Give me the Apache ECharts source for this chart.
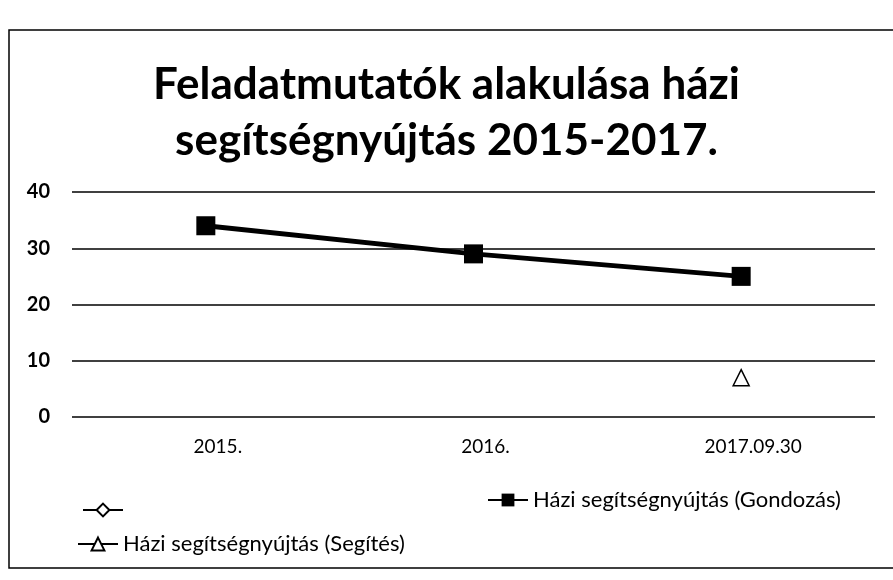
<!DOCTYPE html>
<html>
<head>
<meta charset="utf-8">
<script src="https://cdn.jsdelivr.net/npm/echarts@6/dist/echarts.min.js"></script>
<style>
  html, body { margin: 0; padding: 0; background: #fff; }
  #chart { width: 893px; height: 580px; }
</style>
</head>
<body>
<div id="chart"></div>
<script>
// adatok
const categories = ['2015.', '2016.', '2017.09.30']
const emptySeries = [null, null, null]
const gondozas = [34, 29, 25]
const segites = [null, null, 7]
const yTicks = [0, 10, 20, 30, 40]

const names = [' ', 'Házi segítségnyújtás (Gondozás)', 'Házi segítségnyújtás (Segítés)']
const font = 'Lato, "Open Sans", sans-serif'

const myChart = echarts.init(document.getElementById('chart'), null, { renderer: 'canvas' })

const legendBase = {
  itemWidth: 40,
  itemHeight: 16,
  itemGap: 6,
  textStyle: { fontFamily: font, fontSize: 22, color: '#000' }
}

myChart.setOption({
  animation: false,
  backgroundColor: '#fff',
  title: {
    text: 'Feladatmutatók alakulása házi\nsegítségnyújtás 2015-2017.',
    left: 'center',
    top: 52,
    textStyle: { fontFamily: font, fontSize: 44, fontWeight: 'bold', color: '#000', lineHeight: 56 }
  },
  graphic: [{
    type: 'rect',
    shape: { x: 9, y: 30, width: 900, height: 538 },
    style: { fill: null, stroke: '#000', lineWidth: 1.5 },
    silent: true
  }],
  legend: [
    Object.assign({ data: [names[0]], left: 77, top: 494 }, legendBase),
    Object.assign({ data: [names[1]], left: 482, top: 484 }, legendBase),
    Object.assign({ data: [names[2]], left: 72, top: 528 }, legendBase)
  ],
  grid: { left: 72, right: 18, top: 192, bottom: 163 },
  xAxis: {
    type: 'category',
    data: categories,
    axisLine: { show: false },
    axisTick: { show: false },
    axisLabel: { fontFamily: font, fontSize: 19, color: '#000', margin: 20, padding: [0, 0, 0, 24] }
  },
  yAxis: {
    type: 'value',
    min: yTicks[0],
    max: yTicks[yTicks.length - 1],
    interval: 10,
    axisLine: { show: false },
    axisTick: { show: false },
    axisLabel: { fontFamily: font, fontSize: 20, fontWeight: 'bold', color: '#000', margin: 22 },
    splitLine: { lineStyle: { color: '#000', width: 1.5 } }
  },
  series: [
    {
      name: names[0],
      type: 'line',
      data: emptySeries,
      symbol: 'diamond',
      symbolSize: 12,
      lineStyle: { color: '#000', width: 3 },
      itemStyle: { color: '#fff', borderColor: '#000', borderWidth: 1.5 }
    },
    {
      name: names[1],
      type: 'line',
      data: gondozas,
      symbol: 'rect',
      symbolSize: 19,
      lineStyle: { color: '#000', width: 5 },
      itemStyle: { color: '#000' }
    },
    {
      name: names[2],
      type: 'line',
      data: segites,
      symbol: 'triangle',
      symbolSize: 16,
      lineStyle: { color: '#000', width: 2 },
      itemStyle: { color: '#fff', borderColor: '#000', borderWidth: 1.5 }
    }
  ]
})

window.addEventListener('resize', () => {
  myChart && myChart.resize()
})
</script>
</body>
</html>
